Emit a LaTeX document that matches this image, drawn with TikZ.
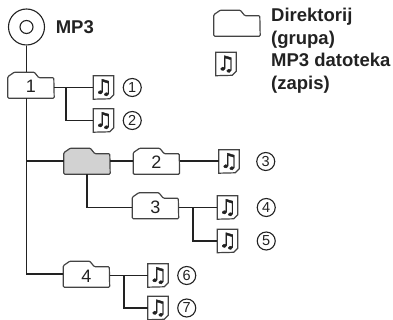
\documentclass[tikz,border=0pt]{standalone}
\usepackage{fontspec}
\setmainfont{Liberation Sans}
\newfontfamily\notefont[RawFeature={embolden=2}]{DejaVu Sans}
\usetikzlibrary{positioning, calc}
\definecolor{inkdark}{HTML}{222222}
\definecolor{foldergray}{HTML}{D2D2D2}

\begin{document}
\begin{tikzpicture}[x=1pt, y=1pt,
  inner sep=0pt,
  link/.style={line width=1.6pt, draw=inkdark}, % lines of the tree
  folderbox/.style={minimum width=46pt, minimum height=26pt,
    text height=16pt, text depth=0pt, font=\fontsize{18}{18}\selectfont, text=inkdark,
    append after command={\pgfextra{
      \draw[line width=1.2pt, draw=inkdark!85, rounded corners=1pt, fill=#1]
        (\tikzlastnode.south west) -- ++(0,21.5) -- ++(6.5,4.5) -- ++(20,0)
        -- ++(4.5,-5.5) -- ++(15,0) -- (\tikzlastnode.south east) -- cycle;
    }}},
  folderbox/.default=none,
  filebox/.style={minimum width=20pt, minimum height=23pt,
    font=\notefont\fontsize{20}{20}\selectfont, text=inkdark,
    append after command={\pgfextra{
      \draw[line width=1.2pt, draw=inkdark!85]
        (\tikzlastnode.south west) -- (\tikzlastnode.north west) -- (\tikzlastnode.north east)
        -- ++(0,-19) -- ++(-4,-4) -- cycle;
    }}},
  countmark/.style={circle, draw=inkdark, line width=1.1pt, minimum size=18pt,
    right=9pt of #1, font=\fontsize{14.5}{14.5}\selectfont, text=inkdark},
  legendtext/.style={align=left, anchor=north west, font=\bfseries\fontsize{18.5}{23}\selectfont, text=inkdark},
]
    \useasboundingbox (0,0) rectangle (393,-320);

    % disc
    \node[circle, draw=inkdark, line width=1.1pt, minimum size=36pt] (disc) at (26.5,-27) {};
    \node[circle, draw=inkdark, line width=1.1pt, minimum size=13pt] (hole) at (disc) {};
    \node[right=10.5pt of disc, font=\bfseries\fontsize{18.5}{18}\selectfont, text=inkdark] (title) {MP3};

    % folders
    \node[folderbox] (folder1) at (31,-85) {1};
    \node[folderbox=foldergray] (foldergrey) at (87,-161) {};
    \node[folderbox, right=23pt of foldergrey] (folder2) {2};
    \node[folderbox] (folder3) at (155.5,-205.5) {3};
    \node[folderbox] (folder4) at (86.5,-274) {4};

    % files
    \node[filebox] (file1) at (103.5,-87.5) {♫};
    \node[filebox] (file2) at (103.5,-120.5) {♫};
    \node[filebox] (file3) at (229,-161.5) {♫};
    \node[filebox] (file4) at (227.5,-207.5) {♫};
    \node[filebox] (file5) at (227.5,-241) {♫};
    \node[filebox] (file6) at (158,-275.5) {♫};
    \node[filebox] (file7) at (158,-308) {♫};

    % numbers
    \node[countmark=file1] (num1) {1};
    \node[countmark=file2] (num2) {2};
    \node[countmark=file3, xshift=8pt] (num3) {3};
    \node[countmark=file4, xshift=10pt] (num4) {4};
    \node[countmark=file5, xshift=10pt] (num5) {5};
    \node[countmark=file6] (num6) {6};
    \node[countmark=file7] (num7) {7};

    % legend
    \node[folderbox] (legendfolder) at (237,-23) {};
    \node[filebox] (legendfile) at (226,-64) {♫};
    \node[legendtext] (legenddir) at (271,-8) {Direktorij\\(grupa)};
    \node[legendtext] (legendmp) at (271,-53) {MP3 datoteka\\(zapis)};

    % tree
    \draw[link] (disc) -- (disc |- folder1.north);
    \draw[link] (disc |- folder1.south) |- (folder4.west);
    \draw[link] (disc |- foldergrey) -- (foldergrey.west);
    \draw[link] (foldergrey.east) -- (folder2.west);
    \draw[link] (foldergrey.south) |- (folder3.west |- file4);
    \draw[link] (folder2.east) -- (file3.west |- folder2);

    \draw[link] (folder1.east |- file1) -- (file1.west);
    \coordinate (fork1) at ($(folder1.east |- file1)+(12,0)$);
    \draw[link] (fork1) |- (file2.west);

    \draw[link] (folder3.east |- file4) -- (file4.west);
    \coordinate (fork3) at ($(folder3.east |- file4)+(14,0)$);
    \draw[link] (fork3) |- (file5.west);

    \draw[link] (folder4.east |- file6) -- (file6.west);
    \coordinate (fork4) at ($(folder4.east |- file6)+(14.5,0)$);
    \draw[link] (fork4) |- (file7.west);
\end{tikzpicture}
\end{document}
